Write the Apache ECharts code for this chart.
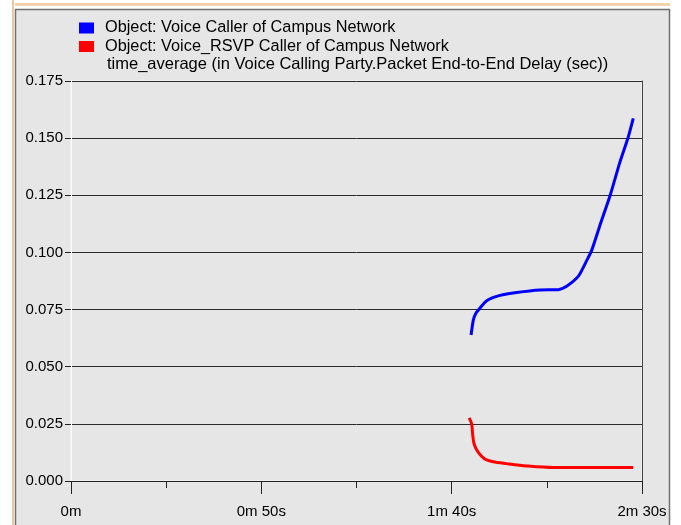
<html>
<head>
<meta charset="utf-8">
<script src="https://cdn.jsdelivr.net/npm/echarts@6.0.0/dist/echarts.min.js"></script>
</head>
<body style="margin:0;">
<div id="chart" style="width:681px;height:525px;"></div>

<script type="text/javascript">

// series names (legend)
var seriesNames = ['Object: Voice Caller of Campus Network', 'Object: Voice_RSVP Caller of Campus Network'];
var statLabel = 'time_average (in Voice Calling Party.Packet End-to-End Delay (sec))';

// Voice caller (blue) - time in seconds, delay in sec
var voiceTime  = [105.1, 105.7, 106.4, 107.4, 109.2, 112.7, 117.1, 123.2, 128.0, 130.2, 133.3, 135.5, 136.8, 138.9, 141.6, 144.2, 146.4, 147.7];
var voiceDelay = [0.0639, 0.0705, 0.0735, 0.0756, 0.0789, 0.0812, 0.0825, 0.0836, 0.0837, 0.0852, 0.0896, 0.0965, 0.1010, 0.1116, 0.1248, 0.1395, 0.1505, 0.1586];

// Voice_RSVP caller (red)
var rsvpTime  = [104.6, 105.25, 105.5, 105.9, 107.0, 108.7, 110.9, 114.4, 119.7, 126.7, 147.7];
var rsvpDelay = [0.0276, 0.0250, 0.0206, 0.0162, 0.0125, 0.0096, 0.0084, 0.0076, 0.0066, 0.0059, 0.0059];

var colors = ['#0000ff', '#ff0000'];

function pairs(xs, ys) {
  return xs.map(function (x, i) { return [x, ys[i]]; });
}

function timeLabel(v) {
  var m = Math.floor(v / 60), s = Math.round(v % 60);
  return s ? m + 'm ' + s + 's' : m + 'm';
}

var chart = echarts.init(document.getElementById('chart'));
var font = 'Liberation Sans';

var option = {
  backgroundColor: '#e6e6e6',
  animation: false,
  textStyle: { fontFamily: font },
  graphic: [
    { type: 'rect', shape: { x: 0, y: 0, width: 681, height: 9 }, style: { fill: '#ffffff' }, silent: true },
    { type: 'rect', shape: { x: 0, y: 3, width: 681, height: 3 }, style: { fill: '#f3d2b0' }, silent: true },
    { type: 'rect', shape: { x: 0, y: 0, width: 15, height: 525 }, style: { fill: '#ffffff' }, silent: true },
    { type: 'rect', shape: { x: 12, y: 0, width: 2, height: 525 }, style: { fill: '#e9c9a4' }, silent: true },
    { type: 'rect', shape: { x: 670, y: 0, width: 11, height: 525 }, style: { fill: '#ffffff' }, silent: true },
    { type: 'rect', shape: { x: 15.5, y: 9.5, width: 654, height: 530 }, style: { fill: null, stroke: '#707070', lineWidth: 1.5 }, silent: true },
    { type: 'text', left: 107, top: 56, style: { text: statLabel, font: '16.5px "Liberation Sans"', fill: '#000' } }
  ],
  legend: {
    orient: 'vertical',
    left: 79,
    top: 19,
    padding: 0,
    itemWidth: 15,
    itemHeight: 11,
    itemGap: 0.5,
    icon: 'rect',
    textStyle: { fontSize: 16.3, color: '#000', fontFamily: font, padding: [0, 0, 0, 6], lineHeight: 18 },
    data: seriesNames
  },
  grid: {
    left: 71, right: 39, top: 81, bottom: 44,
    show: true, borderColor: '#fafafa', borderWidth: 1, backgroundColor: 'transparent'
  },
  xAxis: {
    type: 'value',
    min: 0, max: 150, interval: 50,
    axisLine: { show: true, lineStyle: { color: '#222', width: 1 } },
    axisTick: { show: true, length: 13, lineStyle: { color: '#222' } },
    minorTick: { show: true, splitNumber: 2, length: 7, lineStyle: { color: '#222' } },
    splitLine: { show: false },
    axisLabel: { formatter: timeLabel, fontSize: 15, color: '#000', margin: 23, fontFamily: font }
  },
  yAxis: [{
    type: 'value',
    min: 0, max: 0.175, interval: 0.025,
    axisLine: { show: true, lineStyle: { color: '#fafafa' } },
    axisTick: { show: true, length: 6, lineStyle: { color: '#222' } },
    splitLine: { show: true, lineStyle: { color: '#2a2a2a', width: 1 } },
    axisLabel: { formatter: function (v) { return v.toFixed(3); }, fontSize: 15, color: '#000', margin: 8, fontFamily: font }
  }, {
    type: 'value',
    position: 'right',
    min: 0, max: 0.175, interval: 0.025,
    axisLine: { show: true, lineStyle: { color: '#444' } },
    axisTick: { show: false },
    axisLabel: { show: false },
    splitLine: { show: false }
  }],
  series: [
    {
      name: seriesNames[0], type: 'line', data: pairs(voiceTime, voiceDelay),
      showSymbol: false, smooth: 0.2, color: colors[0],
      lineStyle: { color: colors[0], width: 3 }
    },
    {
      name: seriesNames[1], type: 'line', data: pairs(rsvpTime, rsvpDelay),
      showSymbol: false, smooth: 0.3, color: colors[1],
      lineStyle: { color: colors[1], width: 3 }
    }
  ]
};

option && chart.setOption(option);

</script>
</body>
</html>
